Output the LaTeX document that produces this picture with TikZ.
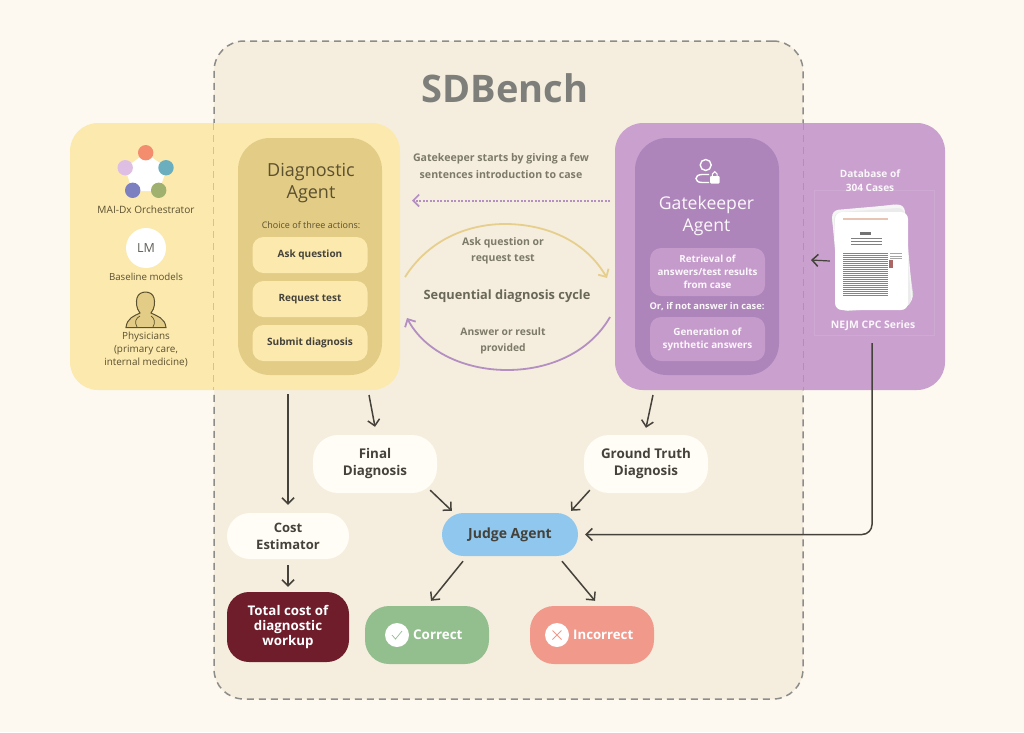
\documentclass[tikz,border=0pt]{standalone}
\usepackage{fontspec}
\setmainfont{Open Sans}
\usetikzlibrary{arrows.meta}
\definecolor{bgc}{HTML}{FDF9F1}
\definecolor{panelc}{HTML}{F5EEDE}
\definecolor{dashc}{HTML}{8C8C88}
\definecolor{yel}{HTML}{FCE9AE}
\definecolor{yeld}{HTML}{E3CC85}
\definecolor{pur}{HTML}{C9A0CE}
\definecolor{purd}{HTML}{AE85BA}
\definecolor{purl}{HTML}{C59BCB}
\definecolor{ink}{HTML}{44423A}
\definecolor{warm}{HTML}{5B5030}
\definecolor{midt}{HTML}{7C7A68}
\definecolor{cream}{HTML}{FFFDF5}
\definecolor{darkred}{HTML}{6F1D2B}
\definecolor{judgec}{HTML}{90C7EE}
\definecolor{okc}{HTML}{93BF8E}
\definecolor{noc}{HTML}{F19A8C}
\definecolor{arcy}{HTML}{E6CF8C}
\definecolor{arcp}{HTML}{B48FC2}
\definecolor{dota}{HTML}{F38D6E}
\definecolor{dotb}{HTML}{6BAEBD}
\definecolor{dotc}{HTML}{DEBEE2}
\definecolor{dotd}{HTML}{7C7FC0}
\definecolor{dote}{HTML}{A0B06E}
\definecolor{pinkrule}{HTML}{E8C4B4}
\tikzset{
  x=1pt,y=-1pt,
  rbox/.style n args={5}{rectangle,rounded corners=#5,fill=#4,minimum width=#1,minimum height=#2,inner sep=0pt,align=center,text=#3},
  arr/.style={draw=ink,line width=1.5pt,-{Straight Barb[length=6pt,width=12pt,line width=1.5pt]}},
  lab/.style={inner sep=0pt,align=center,text=warm,font=\fontsize{10}{13}\selectfont},
  mlab/.style={inner sep=0pt,align=center,text=midt,font=\fontsize{10.5}{16.5}\selectfont\bfseries},
  wlab/.style={inner sep=0pt,align=center,text=white!92!pur,font=\fontsize{10.3}{13}\selectfont\bfseries},
}
\begin{document}
\begin{tikzpicture}
\useasboundingbox[fill=bgc] (0,0) rectangle (1024,732);
% main dashed panel
\node[rectangle,rounded corners=30pt,fill=panelc,draw=dashc,line width=1.5pt,dash pattern=on 7pt off 5pt,minimum width=589pt,minimum height=658pt,inner sep=0pt] (panel) at (508.5,370) {};
\node[inner sep=0pt,text=dashc!90!black,font=\fontsize{38}{40}\selectfont\bfseries] (title) at (505,88) {SDBench};
% side panels
\node[rbox={330pt}{267pt}{ink}{yel}{28pt}] (yellow) at (235,256.5) {};
\node[rbox={330pt}{267pt}{ink}{pur}{28pt}] (purple) at (780,256.5) {};
\draw[dashc,opacity=.4,line width=1.2pt,dash pattern=on 7pt off 5pt] (panel.north west |- yellow.north) -- (panel.north west |- yellow.south);
\draw[dashc,opacity=.5,line width=1.2pt,dash pattern=on 7pt off 5pt] (panel.north east |- purple.north) -- (panel.north east |- purple.south);
% diagnostic agent
\node[rbox={144pt}{237pt}{ink}{yeld}{32pt}] (diag) at (310,256.5) {};
\node[inner sep=0pt,align=center,text=warm,font=\fontsize{18}{22.5}\selectfont] (diagt) at (311,183) {Diagnostic\\Agent};
\node[lab,font=\fontsize{9}{11}\selectfont] (choice) at (311,225) {Choice of three actions:};
\node[rbox={115pt}{36pt}{ink}{yel}{11pt},font=\fontsize{10}{12}\selectfont\bfseries] (ask) at (310,255) {Ask question};
\node[rbox={115pt}{36pt}{ink}{yel}{11pt},font=\fontsize{10}{12}\selectfont\bfseries] (req) at (310,299) {Request test};
\node[rbox={115pt}{36pt}{ink}{yel}{11pt},font=\fontsize{10.1}{12}\selectfont\bfseries] (sub) at (310,343) {Submit diagnosis};
% left models
\fill[white] (145.7,153) -- (167,168) -- (159,191) -- (132.5,191) -- (125,168) -- cycle;
\fill[dota] (145.7,152.7) circle (7.7);
\fill[dotb] (166,167.7) circle (7.7);
\fill[dotc] (125.2,167.7) circle (7.7);
\fill[dotd] (132.7,190.3) circle (7.7);
\fill[dote] (158.7,190.3) circle (7.7);
\node[lab,font=\fontsize{10.1}{12}\selectfont] (mai) at (146,210) {MAI-Dx Orchestrator};
\node[circle,fill=white,minimum size=40pt,inner sep=0pt,text=ink!85,font=\fontsize{12.5}{13}\selectfont] (lm) at (146,248) {LM};
\node[lab,font=\fontsize{9.7}{12}\selectfont] (base) at (146,277) {Baseline models};
\draw[warm,line width=1pt,fill=yeld] (126,327.5) .. controls (127,318) and (134,316) .. (140,313) .. controls (136,308) and (136,302) .. (137,298) .. controls (139,290) and (152,290) .. (154,298) .. controls (155,302) and (155,308) .. (151,313) .. controls (157,316) and (165,318) .. (166,327.5) -- cycle;
\draw[warm,line width=.7pt] (137,327) .. controls (134,322) and (136,318) .. (140,316) (153,327) .. controls (156,322) and (154,318) .. (151,316);
\node[lab,font=\fontsize{9.9}{13}\selectfont] (phys) at (146,350) {Physicians\\(primary care,\\internal medicine)};
% gatekeeper
\node[rbox={144pt}{237pt}{ink}{purd}{32pt}] (gate) at (707,256.5) {};
\draw[white,line width=1.4pt] (705.7,165) circle (5.5);
\draw[white,line width=1.4pt] (709,174.5) -- (702,174.5) .. controls (694,174.5) and (694,182.5) .. (702,182.5) -- (709,182.5);
\fill[white,rounded corners=1pt] (710,176) rectangle (719.5,183.5);
\draw[white,line width=1pt] (712.3,176.5) -- (712.3,174) -- (714.7,171.6) -- (717.1,174) -- (717.1,176.5);
\node[inner sep=0pt,align=center,text=white!92!pur,font=\fontsize{17.6}{22}\selectfont] (gatet) at (706.5,216) {Gatekeeper\\Agent};
\node[rbox={115pt}{48pt}{white!92!pur}{purl}{11pt},font=\fontsize{9.8}{12.8}\selectfont\bfseries] (retr) at (707.5,272) {Retrieval of\\answers/test results\\from case};
\node[wlab,font=\fontsize{9.3}{12}\selectfont\bfseries] (orif) at (707,307) {Or, if not answer in case:};
\node[rbox={115pt}{44pt}{white!92!pur}{purl}{11pt},font=\fontsize{9.9}{12.8}\selectfont\bfseries] (gene) at (707.5,339) {Generation of\\synthetic answers};
% database
\node[rectangle,draw=white,draw opacity=.1,line width=.6pt,minimum width=120pt,minimum height=145pt,inner sep=0pt] (frame) at (874,262.5) {};
\node[wlab,font=\fontsize{10.1}{14}\selectfont\bfseries] (dbt) at (870,181) {Database of\\304 Cases};
\fill[black!12,rounded corners=7pt,rotate around={8:(872,260)}] (838,208) rectangle (908,306);
\fill[black!4,rounded corners=7pt,rotate around={5:(872,260)}] (836,207) rectangle (909,307);
\fill[white!92!black,rounded corners=7pt,rotate around={4:(872,260)}] (837,210) rectangle (908,309);
\node[rectangle,rounded corners=7pt,fill=white,minimum width=73pt,minimum height=98pt,inner sep=0pt] (paper) at (871.5,261) {};
\fill[pinkrule] (843,218) rectangle (888,219.5);
\fill[black!55] (860,232) rectangle (871,235);
\foreach \yy in {238,241,243.5}{\fill[black!50] (851,\yy) rectangle (882,\yy+.9);}
\foreach \yy in {253,255,...,295}{\fill[black!48] (843,\yy) rectangle (888,\yy+1);}
\foreach \yy in {253,255.5,258}{\fill[black!35] (890,\yy) rectangle (902,\yy+.7);}
\fill[red!45!black!60] (888.5,260) rectangle (893,268);
\node[wlab,font=\fontsize{10.4}{12}\selectfont\bfseries] (nejm) at (873,326) {NEJM CPC Series};
% centre labels
\node[mlab,font=\fontsize{10.6}{16.5}\selectfont\bfseries] (intro) at (501,166) {Gatekeeper starts by giving a few\\sentences introduction to case};
\node[mlab] (askl) at (503,251) {Ask question or\\request test};
\node[inner sep=0pt,text=midt!85!black,font=\fontsize{12.8}{15}\selectfont\bfseries] (seq) at (507,296.5) {Sequential diagnosis cycle};
\node[mlab,font=\fontsize{10.3}{16.5}\selectfont\bfseries] (ansl) at (503,341) {Answer or result\\provided};
% cycle connectors
\coordinate (dotstart) at (610,200.5);
\coordinate (dotend) at (412,200.5);
\coordinate (ya) at (405,277);
\coordinate (yb) at (607,278);
\coordinate (pa) at (610,317);
\coordinate (pb) at (407,318);
\draw[arcp,line width=2pt,dash pattern=on 1.6pt off 1.9pt,-{Straight Barb[length=6pt,width=12pt,line width=1.6pt]}] (dotstart) -- (dotend);
\draw[arcy,line width=1.8pt,-{Straight Barb[length=6pt,width=12pt,line width=1.8pt]}] (ya) .. controls (430,238) and (470,224) .. (505,224) .. controls (545,224) and (585,240) .. (yb);
\draw[arcp,line width=1.8pt,-{Straight Barb[length=6pt,width=12pt,line width=1.8pt]}] (pa) .. controls (590,352) and (550,370) .. (507,370) .. controls (465,370) and (425,352) .. (pb);
% lower nodes
\node[rbox={124pt}{58pt}{ink}{cream}{25pt},font=\fontsize{13.4}{17}\selectfont\bfseries] (final) at (375,464) {Final\\Diagnosis};
\node[rbox={124pt}{58pt}{ink}{cream}{25pt},font=\fontsize{13.4}{17}\selectfont\bfseries] (truth) at (646,464) {Ground Truth\\Diagnosis};
\node[rbox={136pt}{43pt}{ink}{judgec}{21.5pt},font=\fontsize{14}{15}\selectfont\bfseries] (judge) at (510,534.5) {Judge Agent};
\node[rbox={122pt}{46pt}{ink}{cream}{23pt},font=\fontsize{13}{17}\selectfont\bfseries] (cost) at (288,536) {Cost\\Estimator};
\node[rbox={122pt}{70pt}{white}{darkred}{22pt},font=\fontsize{13.3}{15}\selectfont\bfseries] (total) at (288,627) {Total cost of\\diagnostic\\workup};
\node[rbox={124pt}{58pt}{white}{okc}{24pt}] (correct) at (427,635) {};
\node[rbox={124pt}{58pt}{white}{noc}{24pt}] (incorrect) at (592,635) {};
\node[circle,fill=white,minimum size=24pt,inner sep=0pt] (okic) at (397,635) {};
\node[circle,fill=white,minimum size=24pt,inner sep=0pt] (noic) at (557,635) {};
\draw[okc,line width=.7pt] (392,635) -- (395.5,639) -- (402,631);
\draw[noc,line width=.8pt] (552.5,630.5) -- (561.5,639.5) (561.5,630.5) -- (552.5,639.5);
\node[anchor=west,inner sep=0pt,text=white,font=\fontsize{13.4}{15}\selectfont\bfseries] (oktx) at (413,635) {Correct};
\node[anchor=west,inner sep=0pt,text=white,font=\fontsize{13.2}{15}\selectfont\bfseries] (notx) at (573,635) {Incorrect};
% arrows
\coordinate (cs) at (288,394);
\coordinate (fs) at (369,395);
\coordinate (ts) at (653,395);
\draw[arr] (cs) -- ([yshift=8]cost.north);
\draw[arr] (fs) -- ([yshift=8]final.north);
\draw[arr] (ts) -- ([yshift=7]truth.north);
\draw[arr] ([xshift=-7,yshift=3]final.south east) -- ([xshift=10,yshift=2]judge.north west);
\draw[arr] ([xshift=6,yshift=3]truth.south west) -- ([xshift=-7,yshift=2]judge.north east);
\draw[arr] ([xshift=-47,yshift=-5]judge.south) -- ([xshift=4,yshift=5]correct.north);
\draw[arr] ([xshift=52,yshift=-5]judge.south) -- ([xshift=3,yshift=5]incorrect.north);
\draw[arr] ([yshift=-6]cost.south) -- ([yshift=5]total.north);
\coordinate (ns) at (872,343);
\draw[arr,rounded corners=10pt] (ns) -- (ns |- judge.east) -- ([xshift=7]judge.east);
\draw[arr,line width=1.2pt] ([xshift=-5]paper.west) -- (811,260);
\end{tikzpicture}
\end{document}
